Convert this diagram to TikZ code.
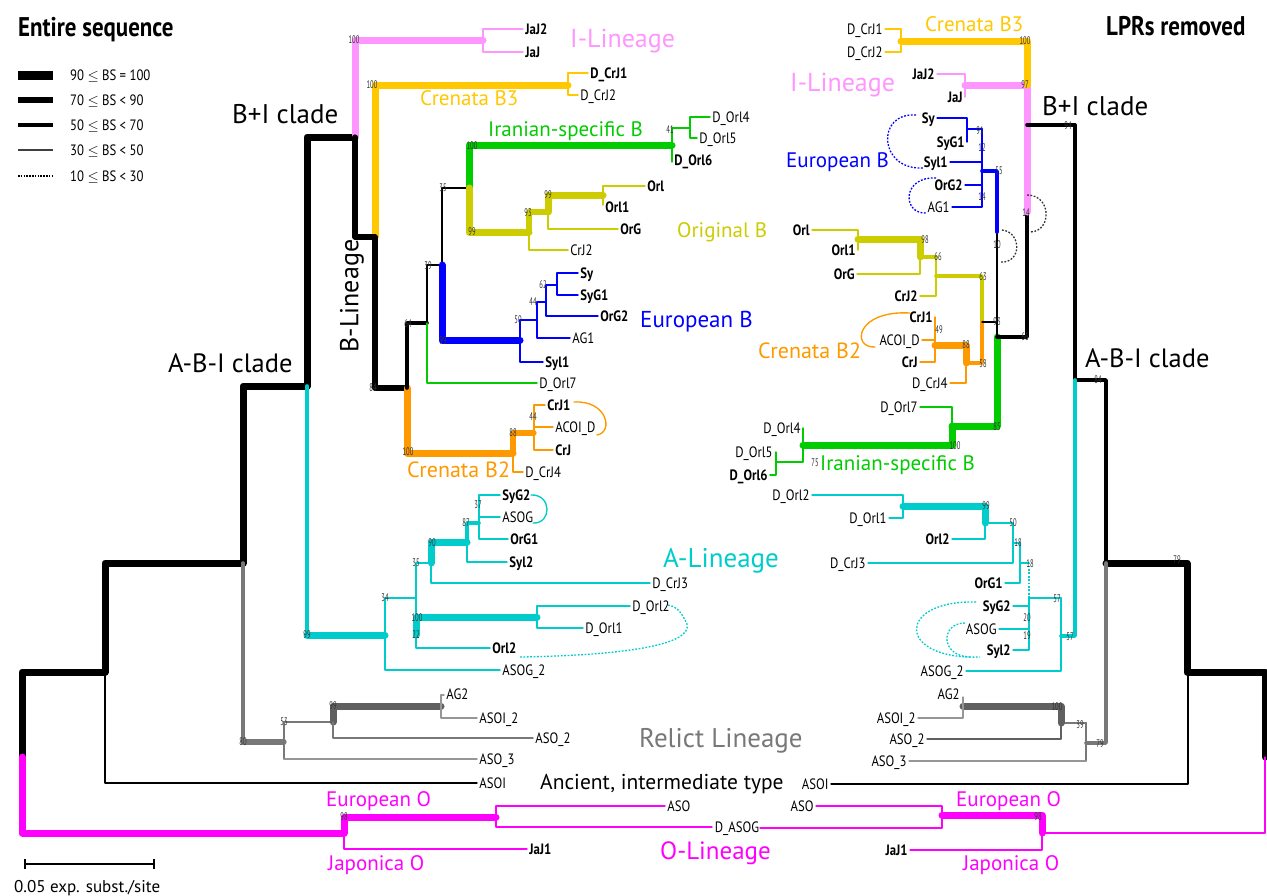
\documentclass[tikz,border=0pt]{standalone}
\usepackage{fontspec}
\setmainfont{PT Sans}
\newfontfamily\cond[FakeStretch=0.85]{PT Sans}
\newfontfamily\ncond[FakeStretch=0.6]{PT Sans}
\definecolor{cPink}{RGB}{255,150,255}
\definecolor{cYel}{RGB}{255,200,0}
\definecolor{cGrn}{RGB}{0,204,0}
\definecolor{cOli}{RGB}{204,204,0}
\definecolor{cBlu}{RGB}{0,0,255}
\definecolor{cOra}{RGB}{255,153,0}
\definecolor{cCya}{RGB}{0,204,204}
\definecolor{cMag}{RGB}{255,0,255}
\definecolor{cGryD}{RGB}{96,96,96}
\definecolor{cGry}{RGB}{120,120,120}
\definecolor{cGryL}{RGB}{150,150,150}
\tikzset{
  W1/.style={line width=7pt},
  W2/.style={line width=5.2pt},
  W3/.style={line width=3.6pt},
  W4/.style={line width=2.3pt},
  tp/.style={line width=1.35pt},
  dsh/.style={line width=1.3pt,dash pattern=on 1.8pt off 1.6pt,line cap=butt},
  tl/.style={anchor=west,inner sep=1.2pt,font=\cond\fontsize{15}{15}\selectfont,text height=10.5pt,text depth=0pt},
  tlb/.style={tl,font=\cond\bfseries\fontsize{15}{15}\selectfont},
  tr/.style={tl,anchor=east},
  trb/.style={tlb,anchor=east},
  bs/.style={font=\ncond\fontsize{11}{11}\selectfont,text=black!80,inner sep=0pt,text height=7.7pt,text depth=0pt},
  grp/.style={anchor=base west,inner sep=0pt,font=\fontsize{#1}{#1}\selectfont},
  lgd/.style={anchor=base west,inner sep=0pt,font=\cond\fontsize{15}{15}\selectfont},
  ttl/.style={anchor=base west,inner sep=0pt,font=\cond\bfseries\fontsize{27}{27}\selectfont}
}
\begin{document}
\begin{tikzpicture}[x=1pt,y=-1pt,line cap=round,line join=round]
\fill[white] (0,0) rectangle (1267,895);
\useasboundingbox (0,0) rectangle (1267,895);

% ================= LEFT TREE =================
\draw[W1] (22,757)--(22,672)--(105,672)--(105,563)--(243,563)--(243,386)--(307,386)--(307,137)--(355,137);
\draw[W1,cMag] (22,757)--(22,833)--(344,833);
\draw[W1,cMag] (344,833)--(344,817)--(496,817);
\draw[tp,cMag] (344,833)--(344,849)--(527,849);
\draw[tp,cMag] (496,806)--(496,827)--(712,827);
\draw[tp,cMag] (496,806)--(665,806);
\draw[tp] (105,672)--(105,783)--(477,783);
% relict
\draw[W3,cGry] (243,563)--(243,742);
\draw[W2,cGry] (243,742)--(284,742);
\draw[tp,cGry] (284,722)--(284,759);
\draw[tp,cGryL] (284,759)--(477,759);
\draw[W4,cGry] (284,722)--(333,722);
\draw[W1,cGryD] (333,722)--(333,706)--(441,706);
\draw[tp,cGry] (333,722)--(333,738)--(533,738);
\draw[tp,cGryL] (444,695)--(441,695)--(441,718)--(477,718);
% A lineage
\draw[W3,cCya] (307,386)--(307,635);
\draw[W1,cCya] (307,635)--(385,635);
\draw[tp,cCya] (385,598)--(385,670)--(500,670);
\draw[tp,cCya] (385,598)--(416,598);
\draw[tp,cCya] (416,563)--(416,648)--(490,648);
\draw[W1,cCya] (416,635)--(416,617)--(537,617);
\draw[tp,cCya] (416,563)--(431,563);
\draw[W1,cCya] (431,563)--(431,542)--(467,542);
\draw[tp,cCya] (431,563)--(431,583)--(650,583);
\draw[W3,cCya] (467,542)--(467,523)--(479,523);
\draw[tp,cCya] (467,542)--(467,562)--(507,562);
\draw[tp,cCya] (500,495)--(479,495)--(479,539)--(508,539);
\draw[tp,cCya] (479,517)--(500,517);
\draw[tp,cCya] (630,606)--(537,606)--(537,628)--(583,628);
\draw[tp,cCya] (531,495) .. controls (552,494) and (552,524) .. (533,523);
\draw[dsh,cCya] (520,657) .. controls (640,655) and (700,642) .. (685,620) .. controls (680,610) and (675,606) .. (668,605);
% I lineage, B3
\draw[W1,cPink] (355,137)--(355,40)--(483,40);
\draw[tp,cPink] (523,29)--(483,29)--(483,52)--(523,52);
\draw[W1,cYel] (375,237)--(375,85)--(568,85);
\draw[tp,cYel] (588,73)--(568,73)--(568,95)--(578,95);
% B lineage backbone
\draw[W2] (355,137)--(355,237)--(375,237)--(375,388)--(407,388);
% Crenata B2
\draw[W1,cOra] (407,388)--(407,453)--(513,453);
\draw[W2,cOra] (513,453)--(513,433)--(534,433);
\draw[tp,cOra] (513,453)--(513,472)--(523,472);
\draw[tp,cOra] (545,405)--(534,405)--(534,450)--(553,450);
\draw[tp,cOra] (534,427)--(553,427);
\draw[tp,cOra] (574,402) .. controls (607,400) and (614,432) .. (597,435);
% inner B
\draw[W3] (407,388)--(407,323)--(427,323);
\draw[tp] (427,323)--(427,265)--(442,265)--(442,188)--(469,188);
\draw[tp,cGrn] (427,323)--(427,383)--(537,383);
\draw[W1,cBlu] (442,265)--(442,340)--(520,340);
\draw[W1,cGrn] (469,188)--(469,145)--(672,145);
\draw[W1,cOli] (469,188)--(469,232)--(529,232);
\draw[W2,cOli] (529,232)--(529,212)--(548,212);
\draw[tp,cOli] (529,232)--(529,250)--(568,250);
\draw[W1,cOli] (548,212)--(548,195)--(603,195);
\draw[tp,cOli] (548,212)--(548,229)--(618,229);
\draw[tp,cOli] (603,205)--(603,186)--(645,186);
\draw[tp,cGrn] (672,162)--(672,128)--(690,128);
\draw[tp,cGrn] (710,117)--(690,117)--(690,138)--(697,138);
\draw[tp,cBlu] (543,362)--(520,362)--(520,320)--(537,320);
\draw[tp,cBlu] (570,338)--(537,338)--(537,302)--(546,302);
\draw[tp,cBlu] (598,316)--(546,316)--(546,285)--(557,285);
\draw[tp,cBlu] (578,273)--(557,273)--(557,295)--(578,295);

% left tip labels
\node[tlb] (LJaJ2) at (524,29) {JaJ2};
\node[tlb] (LJaJ) at (524,52) {JaJ};
\node[tlb] (LDCrJ1) at (589,73) {D\_CrJ1};
\node[tl] (LDCrJ2) at (579,95) {D\_CrJ2};
\node[tl] (LDOrl4) at (711,117) {D\_Orl4};
\node[tl] (LDOrl5) at (698,138) {D\_Orl5};
\node[tlb] (LDOrl6) at (673,160) {D\_Orl6};
\node[tlb] (LOrl) at (646,186) {Orl};
\node[tlb] (LOrl1) at (604,207) {Orl1};
\node[tlb] (LOrG) at (619,229) {OrG};
\node[tl] (LCrJ2) at (569,250) {CrJ2};
\node[tlb] (LSy) at (579,273) {Sy};
\node[tlb] (LSyG1) at (579,295) {SyG1};
\node[tlb] (LOrG2) at (599,316) {OrG2};
\node[tl] (LAG1) at (571,338) {AG1};
\node[tlb] (LSyl1) at (544,362) {Syl1};
\node[tl] (LDOrl7) at (538,383) {D\_Orl7};
\node[tlb] (LCrJ1) at (546,405) {CrJ1};
\node[tl] (LACOI) at (554,427) {ACOI\_D};
\node[tlb] (LCrJ) at (554,450) {CrJ};
\node[tl] (LDCrJ4) at (524,472) {D\_CrJ4};
\node[tlb] (LSyG2) at (501,495) {SyG2};
\node[tl] (LASOG) at (501,517) {ASOG};
\node[tlb] (LOrG1) at (509,539) {OrG1};
\node[tlb] (LSyl2) at (508,562) {Syl2};
\node[tl] (LDCrJ3) at (651,583) {D\_CrJ3};
\node[tl] (LDOrl2) at (631,606) {D\_Orl2};
\node[tl] (LDOrl1) at (584,628) {D\_Orl1};
\node[tlb] (LOrl2) at (491,648) {Orl2};
\node[tl] (LASOG2) at (501,670) {ASOG\_2};
\node[tl] (LAG2) at (445,694) {AG2};
\node[tl] (LASOI2) at (478,718) {ASOI\_2};
\node[tl] (LASO2) at (534,738) {ASO\_2};
\node[tl] (LASO3) at (478,759) {ASO\_3};
\node[tl] (LASOI) at (478,783) {ASOI};
\node[tl] (LASO) at (666,806) {ASO};
\node[tl,anchor=center] (DASOG) at (737,827) {D\_ASOG};
\node[tlb] (LJaJ1) at (528,849) {JaJ1};

\foreach \p/\v [count=\i] in {{354,40}/100,{372,85}/100,{472,146}/100,{670,130}/41,{443,188}/35,{472,232}/99,{528,213}/93,{548,195}/99,{428,266}/39,{443,341}/99,{408,324}/64,{373,388}/84,{518,320}/50,{533,302}/44,{543,285}/62,{513,433}/88,{533,417}/44,{408,452}/100,{478,505}/37,{466,523}/87,{432,543}/90,{416,563}/35,{385,598}/34,{417,618}/100,{416,635}/22,{307,635}/99,{243,742}/80,{284,722}/53,{333,706}/99,{344,817}/98}
  \node[bs] (lbs\i) at (\p) {\v};

% ================= RIGHT TREE =================
\draw[W1] (1265,757)--(1265,672)--(1187,672)--(1187,563)--(1106,563);
\draw[W3] (1106,563)--(1106,380)--(1075,380)--(1075,125)--(1027,125);
\draw[tp,cMag] (1265,757)--(1265,833)--(1042,833);
\draw[W1,cMag] (1042,833)--(1042,815)--(942,815);
\draw[tp,cMag] (1042,833)--(1042,850)--(910,850);
\draw[tp,cMag] (816,806)--(942,806)--(942,828)--(760,828);
\draw[tp] (1188,672)--(1188,784)--(831,784);
\draw[W3,cGry] (1106,563)--(1106,743)--(1086,743);
\draw[tp,cGry] (1086,723)--(1086,761);
\draw[tp,cGryL] (1086,761)--(909,761);
\draw[W4,cGry] (1086,723)--(1061,723);
\draw[W1,cGryD] (1061,723)--(1061,706)--(963,706);
\draw[tp,cGryD] (1061,723)--(1061,739)--(927,739);
\draw[tp,cGryL] (963,697)--(963,718)--(918,718);
\draw[W3,cCya] (1075,380)--(1075,636)--(1061,636);
\draw[tp,cCya] (1061,598)--(1061,671)--(966,671);
\draw[W4,cCya] (1061,598)--(1029,598);
\draw[tp,cCya] (1029,598)--(1029,650)--(1013,650);
\draw[tp,cCya] (1029,606)--(1013,606);
\draw[tp,cCya] (1029,629)--(999,629);
\draw[dsh,cCya] (1029,598)--(1029,563);
\draw[tp,cCya] (1029,563)--(1020,563);
\draw[tp,cCya] (1013,543)--(1020,543)--(1020,583)--(1005,583);
\draw[tp,cCya] (1013,523)--(1013,563)--(868,563);
\draw[W4,cCya] (1013,523)--(985,523);
\draw[W1,cCya] (985,523)--(985,506)--(903,506);
\draw[tp,cCya] (985,523)--(985,539)--(952,539);
\draw[tp,cCya] (812,495)--(903,495)--(903,518)--(889,518);
\draw[dsh,cCya] (976,602) .. controls (896,600) and (896,660) .. (980,657);
\draw[dsh,cCya] (965,623) .. controls (940,623) and (940,657) .. (971,657);
\draw[W1,cGrn] (997,337)--(997,426)--(952,426);
\draw[W1,cGrn] (952,426)--(952,445)--(803,445);
\draw[tp,cGrn] (952,426)--(952,407)--(920,407);
\draw[tp,cGrn] (803,428)--(803,462)--(776,462);
\draw[tp,cGrn] (776,452)--(776,475)--(770,475);
\draw[W3,cOli] (982,322)--(982,276)--(936,276);
\draw[tp,cOli] (936,257)--(936,296)--(920,296);
\draw[W3,cOli] (936,257)--(920,257);
\draw[W1,cOli] (920,257)--(920,239)--(858,239);
\draw[tp,cOli] (920,257)--(920,274)--(857,274);
\draw[tp,cOli] (858,250)--(858,230)--(812,230);
\draw[W3,cOra] (982,322)--(982,363)--(966,363);
\draw[W1,cOra] (966,363)--(966,345)--(935,345);
\draw[tp,cOra] (966,363)--(966,383)--(950,383);
\draw[tp,cOra] (935,317)--(935,362)--(920,362);
\draw[tp,cOra] (935,340)--(922,340);
\draw[tp,cOra] (910,313) .. controls (856,310) and (851,348) .. (875,347);
\draw[tp] (982,322)--(997,322);
\draw[tp] (997,232)--(997,337);
\draw[W3] (997,337)--(1027,337)--(1027,212);
\draw[W3,cBlu] (997,232)--(997,171)--(982,171);
\draw[tp,cBlu] (982,129)--(982,207)--(952,207);
\draw[tp,cBlu] (982,162)--(950,162);
\draw[tp,cBlu] (982,185)--(965,185);
\draw[W4,cBlu] (982,129)--(967,129);
\draw[tp,cBlu] (967,142)--(967,118)--(937,118);
\draw[dsh,cBlu] (916,115) .. controls (876,112) and (878,170) .. (923,168);
\draw[dsh,cBlu] (936,178) .. controls (902,176) and (902,214) .. (926,213);
\draw[W1,cPink] (1027,212)--(1027,85)--(965,85);
\draw[tp,cPink] (965,97)--(965,74)--(937,74);
\draw[W1,cYel] (1027,85)--(1027,41)--(901,41);
\draw[tp,cYel] (885,29)--(901,29)--(901,52)--(885,52);
\draw[W3] (1027,125)--(1075,125);
\draw[dsh,black!80] (1027,195) .. controls (1052,195) and (1052,232) .. (1030,232);
\draw[dsh,black!80] (1002,230) .. controls (1022,232) and (1022,264) .. (1000,262);

% right tip labels
\node[tr] (RDCrJ1) at (884,29) {D\_CrJ1};
\node[tr] (RDCrJ2) at (884,52) {D\_CrJ2};
\node[trb] (RJaJ2) at (936,74) {JaJ2};
\node[trb] (RJaJ) at (964,97) {JaJ};
\node[trb] (RSy) at (936,118) {Sy};
\node[trb] (RSyG1) at (966,142) {SyG1};
\node[trb] (RSyl1) at (949,162) {Syl1};
\node[trb] (ROrG2) at (964,185) {OrG2};
\node[tr] (RAG1) at (951,207) {AG1};
\node[trb] (ROrl) at (811,230) {Orl};
\node[trb] (ROrl1) at (857,250) {Orl1};
\node[trb] (ROrG) at (856,274) {OrG};
\node[trb] (RCrJ2) at (919,296) {CrJ2};
\node[trb] (RCrJ1) at (934,317) {CrJ1};
\node[tr] (RACOI) at (921,340) {ACOI\_D};
\node[trb] (RCrJ) at (919,362) {CrJ};
\node[tr] (RDCrJ4) at (949,383) {D\_CrJ4};
\node[tr] (RDOrl7) at (919,407) {D\_Orl7};
\node[tr] (RDOrl4) at (802,428) {D\_Orl4};
\node[tr] (RDOrl5) at (774,452) {D\_Orl5};
\node[trb] (RDOrl6) at (769,475) {D\_Orl6};
\node[tr] (RDOrl2) at (811,495) {D\_Orl2};
\node[tr] (RDOrl1) at (888,518) {D\_Orl1};
\node[trb] (ROrl2) at (951,539) {Orl2};
\node[tr] (RDCrJ3) at (867,563) {D\_CrJ3};
\node[trb] (ROrG1) at (1004,583) {OrG1};
\node[trb] (RSyG2) at (1012,606) {SyG2};
\node[tr] (RASOG) at (998,629) {ASOG};
\node[trb] (RSyl2) at (1012,650) {Syl2};
\node[tr] (RASOG2) at (965,671) {ASOG\_2};
\node[tr] (RAG2) at (961,694) {AG2};
\node[tr] (RASOI2) at (917,718) {ASOI\_2};
\node[tr] (RASO2) at (926,739) {ASO\_2};
\node[tr] (RASO3) at (908,761) {ASO\_3};
\node[tr] (RASOI) at (830,784) {ASOI};
\node[tr] (RASO) at (815,806) {ASO};
\node[trb] (RJaJ1) at (909,850) {JaJ1};

\foreach \p/\v [count=\i] in {{1025,41}/100,{1025,85}/97,{1068,126}/94,{1098,380}/84,{1177,560}/79,{1100,744}/79,{1080,725}/39,{1057,707}/100,{1038,817}/98,{980,131}/91,{982,148}/12,{999,171}/55,{982,197}/14,{997,245}/10,{1026,213}/14,{925,240}/98,{938,257}/66,{983,277}/63,{997,322}/93,{1025,337}/66,{939,330}/49,{966,345}/88,{983,364}/58,{997,427}/85,{955,446}/100,{815,463}/75,{986,506}/99,{1013,523}/50,{1018,543}/18,{1030,564}/18,{1057,599}/57,{1027,618}/20,{1027,636}/19,{1070,637}/57}
  \node[bs] (rbs\i) at (\p) {\v};

% ================= GROUP LABELS =================
\node[grp=26,text=cPink] (gIL) at (570,47) {I-Lineage};
\node[grp=21,text=cYel] (gB3L) at (420,105) {Crenata B3};
\node[grp=21,text=cGrn] (gIrL) at (488,136) {Iranian-specific B};
\node[grp=27] (gBIL) at (232,123) {B+I clade};
\node[grp=26,rotate=90,anchor=center] (gBL) at (352,296) {B-Lineage};
\node[grp=21,text=cOli] (gOB) at (677,237) {Original B};
\node[grp=23,text=cBlu] (gEBL) at (640,327) {European B};
\node[grp=26.5] (gABIL) at (168,372) {A-B-I clade};
\node[grp=22,text=cOra] (gB2L) at (407,477) {Crenata B2};
\node[grp=27,text=cCya] (gAL) at (663,567) {A-Lineage};
\node[grp=27,text=cGry] (gRel) at (639,747) {Relict Lineage};
\node[grp=21.5] (gAnc) at (540,789) {Ancient, intermediate type};
\node[grp=21,text=cMag] (gEOL) at (326,806) {European O};
\node[grp=21,text=cMag] (gJOL) at (328,870) {Japonica O};
\node[grp=25,text=cMag] (gOL) at (660,859) {O-Lineage};
\node[grp=21,text=cMag] (gEOR) at (956,806) {European O};
\node[grp=21,text=cMag] (gJOR) at (963,870) {Japonica O};
\node[grp=21,text=cYel] (gB3R) at (925,31) {Crenata B3};
\node[grp=26,text=cPink] (gIR) at (790,91) {I-Lineage};
\node[grp=27] (gBIR) at (1042,115) {B+I clade};
\node[grp=21,text=cBlu] (gEBR) at (786,167) {European B};
\node[grp=22,text=cOra] (gB2R) at (758,358) {Crenata B2};
\node[grp=21,text=cGrn] (gIrR) at (820,470) {Iranian-specific B};
\node[grp=26.5] (gABIR) at (1085,367) {A-B-I clade};

\node[ttl] (tEnt) at (18,36) {Entire sequence};
\node[ttl] (tLPR) at (1106,35) {LPRs removed};

% legend
\draw[line width=9pt,line cap=butt] (18,75)--(53,75);
\draw[line width=5.5pt,line cap=butt] (18,100)--(53,100);
\draw[line width=3.5pt,line cap=butt] (18,125)--(53,125);
\draw[line width=1.8pt,line cap=butt,black!75] (18,150)--(53,150);
\draw[line width=1.3pt,line cap=butt,dash pattern=on 1.5pt off 1.3pt] (18,176)--(53,176);
\node[lgd] (lg1) at (70,80) {90 $\leq$ BS = 100};
\node[lgd] (lg2) at (70,105) {70 $\leq$ BS < 90};
\node[lgd] (lg3) at (70,130) {50 $\leq$ BS < 70};
\node[lgd] (lg4) at (70,155) {30 $\leq$ BS < 50};
\node[lgd] (lg5) at (70,181) {10 $\leq$ BS < 30};

% scale bar
\draw[line width=1.3pt,line cap=butt] (25,864)--(154,864);
\draw[line width=1.3pt,line cap=butt] (25,859)--(25,869);
\draw[line width=1.3pt,line cap=butt] (154,859)--(154,869);
\node[grp=17] (scl) at (14,892) {0.05 exp. subst./site};
\end{tikzpicture}
\end{document}
